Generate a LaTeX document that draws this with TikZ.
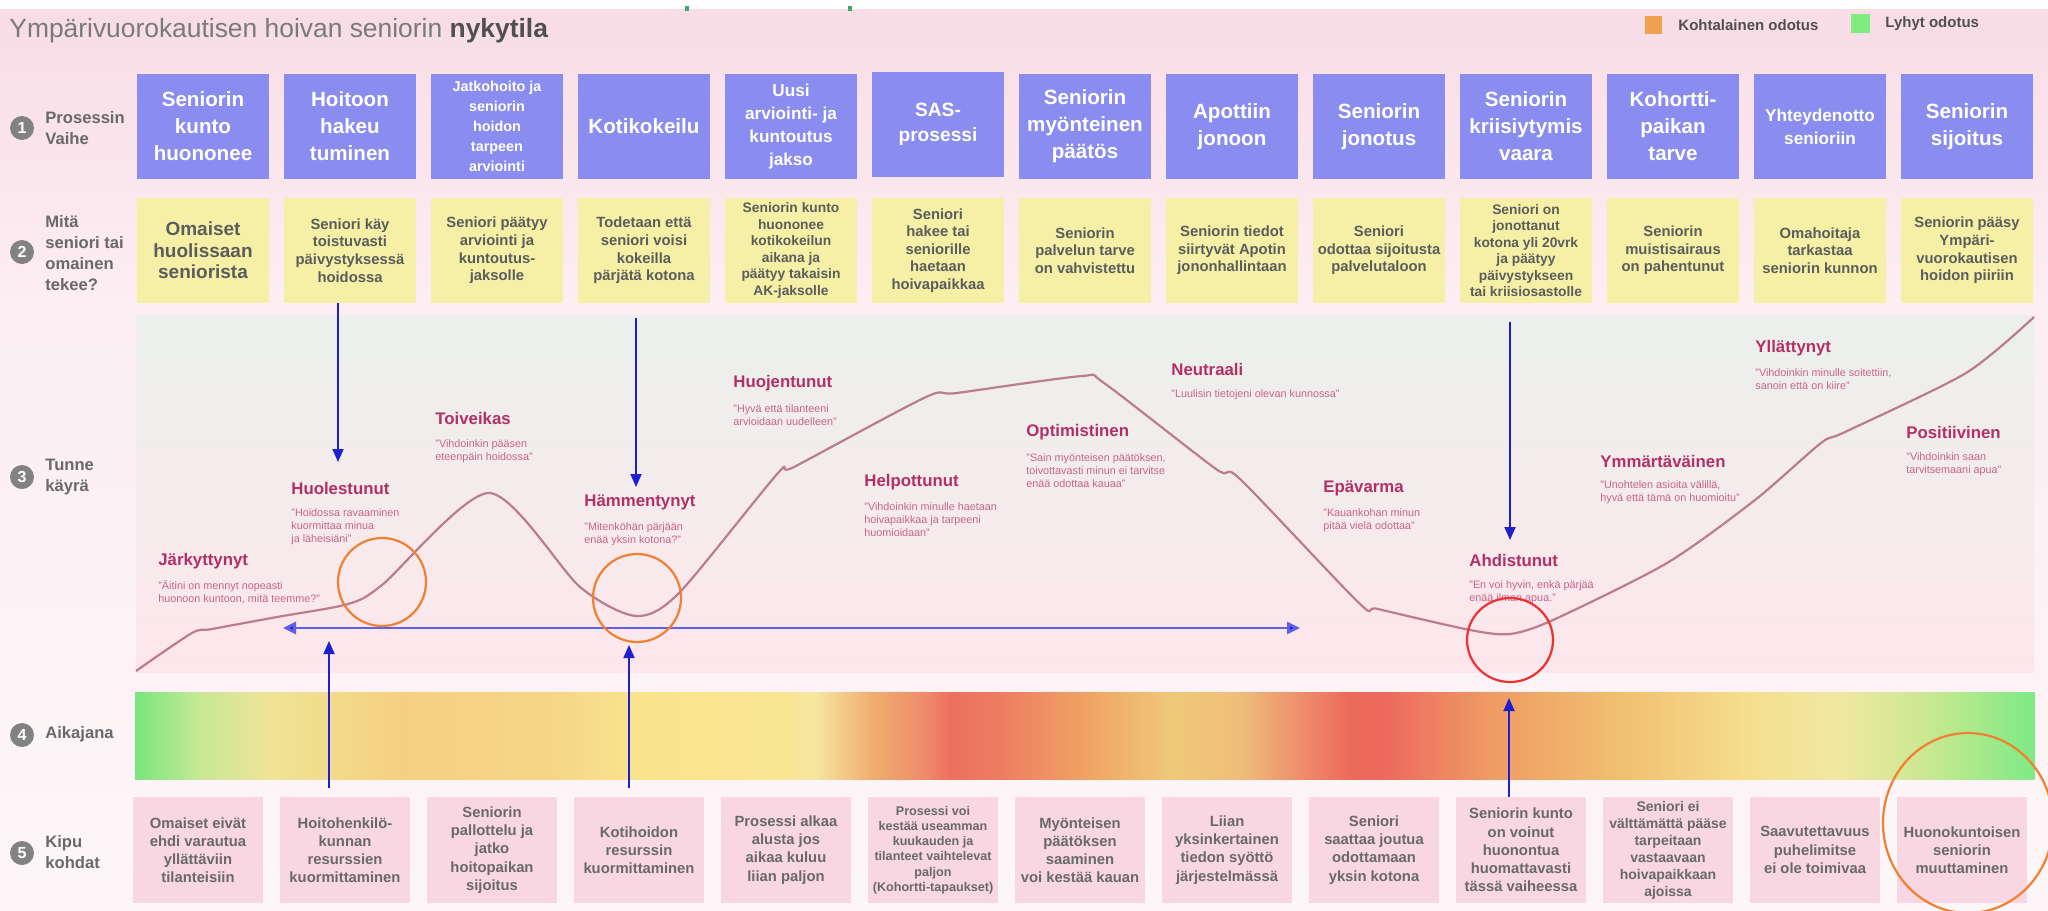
\documentclass[tikz,border=0pt]{standalone}
\usepackage{fontspec}
\setmainfont{Liberation Sans}
\usetikzlibrary{arrows.meta}
\definecolor{procpurple}{RGB}{138,140,240}
\definecolor{actyellow}{RGB}{246,240,166}
\definecolor{painpink}{RGB}{248,214,226}
\definecolor{labgray}{RGB}{105,105,105}
\definecolor{boxtext}{RGB}{92,92,92}
\definecolor{painttext}{RGB}{105,105,105}
\definecolor{emomag}{RGB}{178,48,102}
\definecolor{quotepink}{RGB}{200,100,140}
\definecolor{curvecol}{RGB}{186,124,142}
\definecolor{arrblue}{RGB}{30,30,210}
\definecolor{harrblue}{RGB}{95,95,232}
\definecolor{circorange}{RGB}{240,128,50}
\definecolor{circred}{RGB}{238,50,50}
\definecolor{titlegray}{RGB}{122,122,122}
\definecolor{titledark}{RGB}{80,80,80}
\definecolor{legorange}{RGB}{240,160,80}
\definecolor{leggreen}{RGB}{128,236,128}
\definecolor{tickgreen}{RGB}{60,170,110}
\definecolor{bgtop}{RGB}{248,220,230}
\definecolor{bgmid}{RGB}{252,238,243}
\definecolor{bgbot}{RGB}{253,246,248}
\definecolor{paneltop}{RGB}{235,240,236}
\definecolor{panelbot}{RGB}{253,230,236}
\definecolor{numgray}{RGB}{130,130,130}
% timeline colours
\definecolor{t0}{RGB}{120,230,125}
\definecolor{t1}{RGB}{200,232,150}
\definecolor{t2}{RGB}{240,228,150}
\definecolor{t3}{RGB}{245,208,128}
\definecolor{t4}{RGB}{246,215,135}
\definecolor{t5}{RGB}{249,228,140}
\definecolor{t6}{RGB}{249,230,145}
\definecolor{t7}{RGB}{246,230,160}
\definecolor{t8}{RGB}{240,175,112}
\definecolor{t9}{RGB}{238,138,106}
\definecolor{t10}{RGB}{236,112,94}
\definecolor{t11}{RGB}{237,125,98}
\definecolor{t12}{RGB}{240,160,100}
\definecolor{t13}{RGB}{240,200,120}
\definecolor{t14}{RGB}{238,190,122}
\definecolor{t15}{RGB}{238,138,106}
\definecolor{t16}{RGB}{236,106,90}
\definecolor{t17}{RGB}{236,106,94}
\definecolor{t18}{RGB}{239,155,100}
\definecolor{t19}{RGB}{240,192,112}
\definecolor{t20}{RGB}{245,224,144}
\definecolor{t21}{RGB}{240,232,160}
\definecolor{t22}{RGB}{200,232,144}
\definecolor{t23}{RGB}{126,234,133}
\tikzset{
  procbox/.style={fill=procpurple, minimum width=66pt, minimum height=52.5pt, inner sep=0pt,
    text=white, align=center, font=\bfseries\fontsize{10.3}{13.5}\selectfont},
  actbox/.style={fill=actyellow, minimum width=66pt, minimum height=52.5pt, inner sep=0pt,
    text=boxtext, align=center, font=\bfseries\fontsize{7.4}{8.8}\selectfont},
  painbox/.style={fill=painpink, minimum width=65pt, minimum height=53pt, inner sep=0pt,
    text=painttext, align=center, font=\bfseries\fontsize{7.4}{9.1}\selectfont},
  numcirc/.style={circle, fill=numgray, minimum size=12pt, inner sep=0pt, text=white,
    font=\bfseries\fontsize{8}{8}\selectfont},
  rowlabel/.style={anchor=west, inner sep=0pt, align=left, text=labgray,
    font=\bfseries\fontsize{8.3}{10.5}\selectfont},
  emo/.style={anchor=west, inner sep=0pt, text=emomag, font=\bfseries\fontsize{8.4}{10}\selectfont},
  quote/.style={anchor=west, inner sep=0pt, align=left, text=quotepink, font=\fontsize{5.4}{6.5}\selectfont},
  varr/.style={draw=arrblue, line width=0.9pt, -{Triangle[length=6.5pt,width=5.5pt]}},
  harr/.style={draw=harrblue, line width=1.4pt, {Triangle[length=6.5pt,width=6pt,fill=arrblue]}-{Triangle[length=6.5pt,width=6pt,fill=arrblue]}},
  ring/.style={line width=1.1pt},
  leglabel/.style={anchor=west, inner sep=0pt, text=titledark, font=\bfseries\fontsize{7.5}{9}\selectfont}
}
\begin{document}
\begin{tikzpicture}[x=0.5pt,y=-0.5pt]
\clip (0,0) rectangle (2048,910);
% background
\fill[white] (0,0) rectangle (2048,10);
\shade[top color=bgtop, bottom color=bgmid] (0,9) rectangle (2048,300);
\shade[top color=bgmid, bottom color=bgbot] (0,299) rectangle (2048,910);
% small green remnants at the top edge
\fill[tickgreen] (685,6) rectangle (689,11);
\fill[tickgreen] (848,6) rectangle (852,11);
% emotion panel
\shade[top color=paneltop, bottom color=panelbot] (136,315) rectangle (2034,672);
% timeline bar
\foreach \xa/\xb/\ca/\cb in {135/200/t0/t1, 200/270/t1/t2, 270/400/t2/t3, 400/560/t3/t4, 560/640/t4/t5,
  640/780/t5/t6, 780/815/t6/t7, 815/870/t7/t8, 870/925/t8/t9, 925/950/t9/t10, 950/1000/t10/t11,
  1000/1080/t11/t12, 1080/1170/t12/t13, 1170/1240/t13/t14, 1240/1305/t14/t15, 1305/1350/t15/t16,
  1350/1385/t16/t17, 1385/1490/t17/t18, 1490/1620/t18/t19, 1620/1755/t19/t20, 1755/1840/t20/t21,
  1840/1930/t21/t22, 1930/2034/t22/t23}
  \shade[left color=\ca, right color=\cb] (\xa,692) rectangle (\xb+0.6,779);

% title and legend
\node[anchor=base west, inner sep=0pt, text=titlegray, font=\fontsize{13.2}{16}\selectfont] (title) at (9,37)
  {Ympärivuorokautisen hoivan seniorin {\color{titledark}\bfseries nykytila}};
\node[fill=legorange, minimum width=8.5pt, minimum height=9pt, inner sep=0pt] (lsq1) at (1653.5,24.5) {};
\node[leglabel] (ltx1) at (1678,25) {Kohtalainen odotus};
\node[fill=leggreen, minimum width=9.5pt, minimum height=9.5pt, inner sep=0pt] (lsq2) at (1860.5,23.5) {};
\node[leglabel] (ltx2) at (1885,24) {Lyhyt odotus};

% row labels
\node[numcirc] (n1) at (22,128) {1};
\node[rowlabel] (r1) at (45,128) {Prosessin\\Vaihe};
\node[numcirc] (n2) at (22,252) {2};
\node[rowlabel] (r2) at (45,253) {Mitä\\seniori tai\\omainen\\tekee?};
\node[numcirc] (n3) at (22,477) {3};
\node[rowlabel] (r3) at (45,477) {Tunne\\käyrä};
\node[numcirc] (n4) at (22,735) {4};
\node[rowlabel] (r4) at (45,734) {Aikajana};
\node[numcirc] (n5) at (22,853) {5};
\node[rowlabel] (r5) at (45,852) {Kipu\\kohdat};

% row 1: process phases
\node[procbox] (p1) at (203,126.5) {Seniorin\\kunto\\huononee};
\node[procbox] (p2) at (350,126.5) {Hoitoon\\hakeu\\tuminen};
\node[procbox, font=\bfseries\fontsize{7.2}{10}\selectfont] (p3) at (497,126.5) {Jatkohoito ja\\seniorin\\hoidon\\tarpeen\\arviointi};
\node[procbox] (p4) at (644,126.5) {Kotikokeilu};
\node[procbox, font=\bfseries\fontsize{8.6}{11.5}\selectfont] (p5) at (791,126.5) {Uusi\\arviointi- ja\\kuntoutus\\jakso};
\node[procbox, font=\bfseries\fontsize{9.6}{12.5}\selectfont] (p6) at (938,124) {SAS-\\prosessi};
\node[procbox] (p7) at (1085,126.5) {Seniorin\\myönteinen\\päätös};
\node[procbox] (p8) at (1232,126.5) {Apottiin\\jonoon};
\node[procbox] (p9) at (1379,126.5) {Seniorin\\jonotus};
\node[procbox] (p10) at (1526,126.5) {Seniorin\\kriisiytymis\\vaara};
\node[procbox] (p11) at (1673,126.5) {Kohortti-\\paikan\\tarve};
\node[procbox, font=\bfseries\fontsize{8.6}{11.5}\selectfont] (p12) at (1820,126.5) {Yhteydenotto\\senioriin};
\node[procbox] (p13) at (1967,126.5) {Seniorin\\sijoitus};

% row 2: what the senior does
\node[actbox, font=\bfseries\fontsize{9.5}{10.8}\selectfont] (y1) at (203,250.5) {Omaiset\\huolissaan\\seniorista};
\node[actbox] (y2) at (350,250.5) {Seniori käy\\toistuvasti\\päivystyksessä\\hoidossa};
\node[actbox] (y3) at (497,250.5) {Seniori päätyy\\arviointi ja\\kuntoutus-\\jaksolle};
\node[actbox] (y4) at (644,250.5) {Todetaan että\\seniori voisi\\kokeilla\\pärjätä kotona};
\node[actbox, font=\bfseries\fontsize{6.9}{8.3}\selectfont] (y5) at (791,250.5) {Seniorin kunto\\huononee\\kotikokeilun\\aikana ja\\päätyy takaisin\\AK-jaksolle};
\node[actbox] (y6) at (938,250.5) {Seniori\\hakee tai\\seniorille\\haetaan\\hoivapaikkaa};
\node[actbox] (y7) at (1085,250.5) {Seniorin\\palvelun tarve\\on vahvistettu};
\node[actbox] (y8) at (1232,250.5) {Seniorin tiedot\\siirtyvät Apotin\\jononhallintaan};
\node[actbox] (y9) at (1379,250.5) {Seniori\\odottaa sijoitusta\\palvelutaloon};
\node[actbox, font=\bfseries\fontsize{6.9}{8.2}\selectfont] (y10) at (1526,250.5) {Seniori on\\jonottanut\\kotona yli 20vrk\\ja päätyy\\päivystykseen\\tai kriisiosastolle};
\node[actbox] (y11) at (1673,250.5) {Seniorin\\muistisairaus\\on pahentunut};
\node[actbox] (y12) at (1820,250.5) {Omahoitaja\\tarkastaa\\seniorin kunnon};
\node[actbox] (y13) at (1967,250.5) {Seniorin pääsy\\Ympäri-\\vuorokautisen\\hoidon piiriin};

% row 5: pain points
\node[painbox] (q1) at (198,850) {Omaiset eivät\\ehdi varautua\\yllättäviin\\tilanteisiin};
\node[painbox] (q2) at (345,850) {Hoitohenkilö-\\kunnan\\resurssien\\kuormittaminen};
\node[painbox] (q3) at (492,850) {Seniorin\\pallottelu ja\\jatko\\hoitopaikan\\sijoitus};
\node[painbox] (q4) at (639,850) {Kotihoidon\\resurssin\\kuormittaminen};
\node[painbox] (q5) at (786,850) {Prosessi alkaa\\alusta jos\\aikaa kuluu\\liian paljon};
\node[painbox, font=\bfseries\fontsize{6.3}{7.6}\selectfont] (q6) at (933,850) {Prosessi voi\\kestää useamman\\kuukauden ja\\tilanteet vaihtelevat\\paljon\\(Kohortti-tapaukset)};
\node[painbox] (q7) at (1080,850) {Myönteisen\\päätöksen\\saaminen\\voi kestää kauan};
\node[painbox] (q8) at (1227,850) {Liian\\yksinkertainen\\tiedon syöttö\\järjestelmässä};
\node[painbox] (q9) at (1374,850) {Seniori\\saattaa joutua\\odottamaan\\yksin kotona};
\node[painbox] (q10) at (1521,850) {Seniorin kunto\\on voinut\\huonontua\\huomattavasti\\tässä vaiheessa};
\node[painbox, font=\bfseries\fontsize{7}{8.5}\selectfont] (q11) at (1668,850) {Seniori ei\\välttämättä pääse\\tarpeitaan\\vastaavaan\\hoivapaikkaan\\ajoissa};
\node[painbox] (q12) at (1815,850) {Saavutettavuus\\puhelimitse\\ei ole toimivaa};
\node[painbox] (q13) at (1962,850) {Huonokuntoisen\\seniorin\\muuttaminen};

% emotion curve
\draw[curvecol, line width=1.1pt, line join=round] plot[smooth, tension=0.45] coordinates {
  (136,671) (192,633) (212,629) (277,617) (348,604) (382,585) (489,493) (580,587) (636,616)
  (679,593) (778,473) (794,467) (926,397) (957,393) (1082,376) (1104,383) (1216,469) (1240,479)
  (1359,603) (1378,609) (1470,630) (1510,634) (1553,620) (1667,563) (1755,500) (1821,443)
  (1845,432) (1966,373) (2034,317)};

% emotion labels and quotes
\node[emo] (e1) at (158,561) {Järkyttynyt};
\node[quote] (c1) at (158,592.5) {"Äitini on mennyt nopeasti\\huonoon kuntoon, mitä teemme?"};
\node[emo] (e2) at (291,488) {Huolestunut};
\node[quote] (c2) at (291,527) {"Hoidossa ravaaminen\\kuormittaa minua\\ja läheisiäni"};
\node[emo] (e3) at (435,418) {Toiveikas};
\node[quote] (c3) at (435,451) {"Vihdoinkin pääsen\\eteenpäin hoidossa"};
\node[emo] (e4) at (584,502) {Hämmentynyt};
\node[quote] (c4) at (584,534) {"Mitenköhän pärjään\\enää yksin kotona?"};
\node[emo] (e5) at (733,383) {Huojentunut};
\node[quote] (c5) at (733,415) {"Hyvä että tilanteeni\\arvioidaan uudelleen"};
\node[emo] (e6) at (864,482) {Helpottunut};
\node[quote] (c6) at (864,520) {"Vihdoinkin minulle haetaan\\hoivapaikkaa ja tarpeeni\\huomioidaan"};
\node[emo] (e7) at (1026,432) {Optimistinen};
\node[quote] (c7) at (1026,471) {"Sain myönteisen päätöksen,\\toivottavasti minun ei tarvitse\\enää odottaa kauaa"};
\node[emo] (e8) at (1171,369) {Neutraali};
\node[quote] (c8) at (1171,395) {"Luulisin tietojeni olevan kunnossa"};
\node[emo] (e9) at (1323,488) {Epävarma};
\node[quote] (c9) at (1323,520) {"Kauankohan minun\\pitää vielä odottaa"};
\node[emo] (e10) at (1469,560) {Ahdistunut};
\node[quote] (c10) at (1469,592) {"En voi hyvin, enkä pärjää\\enää ilman apua."};
\node[emo] (e11) at (1600,461) {Ymmärtäväinen};
\node[quote] (c11) at (1600,492.5) {"Unohtelen asioita välillä,\\hyvä että tämä on huomioitu"};
\node[emo] (e12) at (1755,348) {Yllättynyt};
\node[quote] (c12) at (1755,379.5) {"Vihdoinkin minulle soitettiin,\\sanoin että on kiire"};
\node[emo] (e13) at (1906,432) {Positiivinen};
\node[quote] (c13) at (1906,464) {"Vihdoinkin saan\\tarvitsemaani apua"};

% arrows
\coordinate (d1) at (338,462);
\draw[varr] (y2.south -| d1) -- (d1);
\coordinate (d2s) at (636,318);
\coordinate (d2) at (636,487);
\draw[varr] (d2s) -- (d2);
\coordinate (d3s) at (1510,322);
\coordinate (d3) at (1510,540);
\draw[varr] (d3s) -- (d3);
\coordinate (hl) at (283,628);
\coordinate (hr) at (1300,628);
\draw[harr] (hl) -- (hr);
\coordinate (u1s) at (329,788);
\coordinate (u1) at (329,641);
\draw[varr] (u1s) -- (u1);
\coordinate (u2s) at (629,788);
\coordinate (u2) at (629,645);
\draw[varr] (u2s) -- (u2);
\coordinate (u3) at (1509,698);
\draw[varr] (q10.north -| u3) -- (u3);

% highlight rings
\draw[ring, circorange] (382,582) ellipse [x radius=44, y radius=44];
\draw[ring, circorange] (637,598) ellipse [x radius=44, y radius=44];
\draw[ring, circred] (1510,640) ellipse [x radius=43, y radius=42];
\draw[ring, circorange] (1968,823) ellipse [x radius=85, y radius=90];
\end{tikzpicture}
\end{document}
